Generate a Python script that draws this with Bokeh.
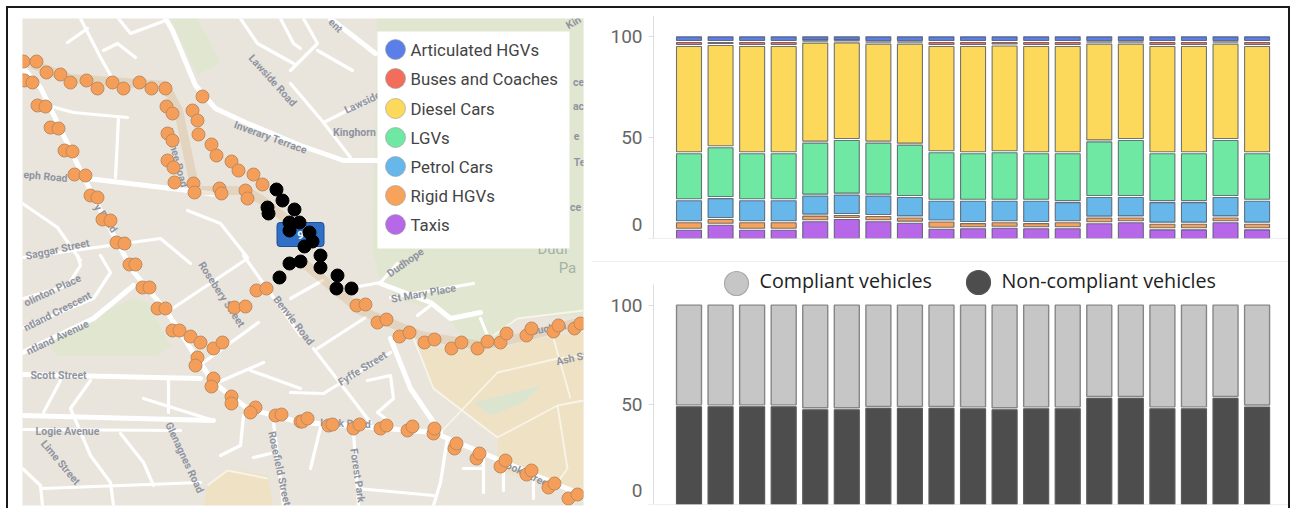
from bokeh.plotting import figure
from bokeh.layouts import row, column
from bokeh.models import Range1d
from bokeh.core.properties import value
from bokeh.embed import file_html
from bokeh.resources import INLINE

# ---------------- chart data ----------------
periods = list(range(19))
legend_names = ["Articulated HGVs", "Buses and Coaches", "Diesel Cars", "LGVs", "Petrol Cars", "Rigid HGVs", "Taxis"]
legend_colors = ["#5b7fe8", "#f26d5b", "#fdd95b", "#6fe8a3", "#67b7ea", "#f7a35c", "#b668e8"]

taxis = [4.6, 7.1, 4.6, 4.6, 8.8, 9.9, 8.8, 8.1, 5.1, 5.3, 5.6, 5.3, 5.3, 7.8, 8.3, 4.8, 4.8, 8.3, 4.8]
rigid_hgvs = [3.7, 2.8, 3.7, 3.7, 2.8, 2.0, 2.6, 2.6, 3.6, 2.6, 2.7, 2.6, 3.0, 2.8, 2.4, 2.8, 2.8, 2.4, 2.8]
petrol_cars = [10.9, 10.4, 10.9, 10.9, 9.9, 10.1, 10.1, 10.1, 10.3, 11.1, 10.7, 11.1, 10.0, 10.2, 10.1, 10.7, 10.7, 10.1, 11.4]
lgvs = [23.3, 25.2, 23.3, 23.3, 26.3, 27.1, 26.3, 26.0, 24.0, 23.5, 24.0, 23.5, 24.2, 27.6, 28.3, 24.2, 24.2, 28.3, 23.5]
diesel_cars = [53.2, 50.7, 53.2, 53.2, 49.6, 48.4, 49.1, 50.1, 52.7, 53.2, 53.0, 53.2, 53.2, 48.5, 47.8, 53.2, 53.2, 47.8, 53.2]
buses = [2.0, 1.5, 2.0, 2.0, 0.6, 0.5, 0.8, 0.8, 2.0, 2.0, 1.7, 2.0, 2.0, 0.8, 0.8, 2.0, 2.0, 0.8, 2.0]
artic_hgvs = [2.3, 2.3, 2.3, 2.3, 2.0, 2.0, 2.3, 2.3, 2.3, 2.3, 2.3, 2.3, 2.3, 2.3, 2.3, 2.3, 2.3, 2.3, 2.3]

non_compliant = [49.5, 49.5, 49.5, 49.5, 48.0, 48.0, 48.7, 48.7, 48.7, 48.5, 48.0, 48.5, 48.5, 53.7, 53.7, 48.5, 48.5, 53.7, 49.4]
compliance_names = ["Compliant vehicles", "Non-compliant vehicles"]
compliance_colors = ["#c6c6c6", "#4d4d4d"]
tick_values = [0, 50, 100]
zero_label = ["0"]

# ---------------- map data (map coordinates) ----------------
orange_x = [23,36,46,60,70,86,97,112,123,139,151,165,166,172,202,192,197,198,211,216,231,238,253,262,167,172,167,173,174,193,194,219,221,245,247,
            24,32,37,45,50,58,64,72,74,85,90,97,102,110,116,124,129,135,142,149,157,165,172,179,190,200,213,222,234,245,256,266,197,195,213,211,231,231,255,250,275,281,300,
            356,365,377,386,399,409,424,434,451,461,477,487,500,506,526,531,553,558,574,580,
            302,307,328,332,353,359,380,386,407,412,433,434,454,456,476,479,500,505,526,531,548,554,568,577]
orange_y = [61,61,72,74,82,80,88,82,88,82,88,88,106,113,96,110,120,134,144,155,161,170,174,184,133,140,160,167,182,183,192,188,193,190,198,
            80,82,105,106,127,128,150,151,174,175,195,197,219,220,242,243,264,264,287,287,308,308,330,330,336,342,348,342,307,306,290,288,357,365,378,386,396,403,407,412,415,414,421,
            305,304,322,319,336,332,342,339,348,342,348,341,342,333,335,328,331,325,328,323,
            421,418,425,424,428,424,428,425,430,426,433,428,448,443,458,453,466,460,474,470,487,483,498,494]
black_x = [276,282,267,268,294,289,299,289,309,312,304,320,320,289,300,279,337,336,351]
black_y = [189,200,207,213,209,222,222,230,232,241,246,255,267,263,261,277,275,288,288]

route_paths_x = [[22,70,165,178,195,245,262,290], [300,360,420,480,530,583]]
route_paths_y = [[60,78,85,110,190,190,200,222], [260,310,335,345,335,320]]

streets_wide_x = [[165,172,195,215,245,300,343,380],[22,40,80,100,132,167,190,213,247,300,350,433,457,583],[22,93,133],[87,187,222],[330,375],[390,410,440],[22,200],[380,430,450,480],[22,213]]
streets_wide_y = [[18,30,85,108,122,145,160,160],[67,87,170,210,270,312,348,382,408,422,425,432,442,495],[352,318,285],[178,190,195],[18,53],[338,388,432],[374,378],[283,302,318,312],[415,420]]
streets_mid_x = [[118,130,165],[80,100,113],[67,87],[103,117,135],[240,257,293],[303,317,290],[317,352],[280,293,300],[323,373],[290,323,350],[40,73,127],[118,115],[22,57,80],[22,160,190],[187,220,247],[23,93,110,100],[23,67,80,77],[172,247],[203,258],[243,300],[313,370],[217,263],[250,300],[60,43],[90,70,90,110,113],[120,143,153],[42,200],[22,40,42],[143,213],[243,240,220],[273,283],[253,270],[323,390],[290,323],[322,290],[365,317],[397,380,353],[430,417],[390,473],[480,487],[447,440,433],[320,310],[353,358],[357,433],[367,390,393,377,390],[463,483],[483,483],[503,503],[533,533],[22,180],[168,168]]
streets_mid_y = [[18,33,20],[18,57,80],[42,28],[50,43,57],[18,43,63],[18,43,70],[50,70],[18,43,48],[122,97],[83,122,157],[103,112,117],[117,177],[203,227,260],[257,238,263],[210,223,257],[327,298,272,255],[298,285,265,255],[308,258],[362,322],[255,335],[348,422],[382,362],[370,388],[380,412],[380,408,455,482,505],[433,462,485],[488,482],[468,485,505],[398,420],[415,445,455],[422,505],[457,453],[393,352],[392,393],[280,298],[317,348],[263,282,287],[305,315],[297,283],[318,335],[437,482,505],[427,468],[432,505],[488,495],[380,375,398,412,422],[468,468],[455,492],[468,490],[478,498],[429,430],[378,412]]
streets_thin_x = [[413,433,497],[440,497,557,583],[497,557,583],[553,570],[557,567,557],[493,517,583],[207,227,267]]
streets_thin_y = [[338,388,437],[432,372,358,355],[437,405,400],[338,398],[405,468,482],[335,318,310],[485,470,478]]

park_x = [[170,197,220,197],[50,57,133,147,170,157,57],[420,583,583,517,495,497,470,440,400,380,372,377,420]]
park_y = [[18,18,62,75],[348,332,298,302,345,355,355],[18,18,315,318,338,370,345,310,300,280,250,18,18]]
sand_x = [[418,433,497,497,583,583,553,497,457],[203,207,227,267,273]]
sand_y = [[345,388,437,470,495,332,335,348,350],[505,485,468,475,505]]
pond_x = [[473,540,523,490]]
pond_y = [[402,385,402,415]]

street_names = ["Lawside Road","Lawside","Inverary Terrace","Kinghorn","Saggar Street","eph Road","olinton Place","ntland Crescent","ntland Avenue","Scott Street","Logie Avenue","Lime Street","Glenagnes Road","Rosefield Street","Rosebery Street","Benvie Road","Fyffe Street","St Mary Place","Forest Park","Ash St","Dudhope","Buchan","Intok Road","Cook Street","Lochee Road","y Road","ent","Kin","ce","ac","e","Te","ce"]
street_x = [272,362,270,354,57,45,52,57,57,58,67,60,184,279,221,293,362,423,357,571,405,548,345,525,176,105,335,573,578,578,576,579,575]
street_y = [80,102,137,132,249,176,290,311,337,375,431,462,457,468,294,320,368,293,475,358,262,328,423,473,157,218,25,22,82,106,135,162,207]
street_angle = [-48,25,-20,0,12,-5,25,27,25,0,0,-50,-65,-78,-57,-52,32,10,-82,12,35,10,-2,-25,-75,-55,-45,30,0,0,0,0,0]
park_names = ["Dudl", "Pa"]
park_name_x = [552, 567]
park_name_y = [248, 267]
marker_label = ["9"]
marker_x = [300]
marker_y = [234]

CANVAS_LEFT_PX, AXIS_PX, RIGHT_PX = 592, 653, 1288
PX_PER_BAR = 31.56
BAR_W = 0.792
GAP = 0.5
TICK_COLOR = "#666666"
AXIS_COLOR = "#dddddd"

axis_x = -1.125
x_start = axis_x - (AXIS_PX - CANVAS_LEFT_PX) / PX_PER_BAR
x_end = axis_x + (RIGHT_PX - AXIS_PX) / PX_PER_BAR


def style_axis(p, bound):
    ax = p.yaxis[0]
    ax.fixed_location = axis_x
    ax.ticker = tick_values
    ax.major_label_overrides = {0: ""}
    ax.major_label_text_font = "Roboto"
    ax.major_label_text_font_size = "19px"
    ax.major_label_text_color = TICK_COLOR
    ax.major_label_standoff = 6
    ax.major_tick_out = 5
    ax.major_tick_in = 0
    ax.minor_tick_out = 0
    ax.minor_tick_in = 0
    ax.axis_line_color = AXIS_COLOR
    ax.major_tick_line_color = AXIS_COLOR
    ax.bounds = (0, bound)
    p.xaxis.visible = False
    p.grid.visible = False
    p.outline_line_color = None
    p.segment(x0=[axis_x], x1=[x_end], y0=[0], y1=[0], line_color=AXIS_COLOR, line_width=1)
    p.text(x=[axis_x], y=[0], text=zero_label, x_offset=-11, y_offset=-14, text_align="right",
           text_baseline="middle", text_font=value("Roboto"), text_font_size="19px", text_color=TICK_COLOR)


# ---------------- map panel ----------------
m = figure(width=584, height=500, x_range=Range1d(22, 583), y_range=Range1d(505, 18),
           output_backend="svg", toolbar_location=None, min_border_left=14, min_border_right=9,
           min_border_top=10, min_border_bottom=3, background_fill_color="#e9e5dc")
m.axis.visible = False
m.grid.visible = False
m.outline_line_color = None
m.patches(park_x, park_y, fill_color="#e1e6d1", line_color=None)
m.patches(sand_x, sand_y, fill_color="#efe2c4", line_color=None)
m.patches(pond_x, pond_y, fill_color="#dbe4cf", line_color=None)
m.multi_line(streets_thin_x, streets_thin_y, line_color="#f8f4e8", line_width=1.8)
m.multi_line(streets_mid_x, streets_mid_y, line_color="#ffffff", line_width=3.2, line_cap="round", line_join="round")
m.multi_line(streets_wide_x, streets_wide_y, line_color="#ffffff", line_width=5, line_cap="round", line_join="round")
m.multi_line(route_paths_x, route_paths_y, line_color="#d9b48c", line_alpha=0.35, line_width=9, line_join="round")
m.text(street_x, street_y, text=street_names, angle=street_angle, angle_units="deg", text_align="center",
       text_baseline="middle", text_font=value("Roboto"), text_font_style="bold", text_font_size="10.5px",
       text_color="#8f94a1")
m.text(park_name_x, park_name_y, text=park_names, text_align="center", text_baseline="middle",
       text_font=value("Roboto"), text_font_size="15px", text_color="#a3b2a4")
m.rect(x=[300], y=[234], width=47, height=24, fill_color="#2f6fc6", line_color="#1f4f96", line_width=1, border_radius=3)
m.text(marker_x, marker_y, text=marker_label, text_align="center", text_baseline="middle",
       text_font=value("Roboto"), text_font_style="bold", text_font_size="11px", text_color="#ffffff")
m.scatter(orange_x, orange_y, size=13, fill_color="#f59e5a", line_color="#c08a5c", line_width=1)
m.scatter(black_x, black_y, size=13, fill_color="#000000", line_color="#000000")
# legend box
m.quad(left=[377], right=[569], top=[31], bottom=[248], fill_color="#ffffff", line_color=None)
leg_y = [49, 78, 108, 137, 166, 195, 224]
m.scatter([395] * 7, leg_y, size=20, fill_color=legend_colors, line_color="#999999", line_alpha=0.6, line_width=1)
m.text([410] * 7, leg_y, text=legend_names, text_align="left", text_baseline="middle",
       text_font=value("Roboto"), text_font_size="16.8px", text_color="#444444")

# ---------------- top stacked chart ----------------
t = figure(width=696, height=254, x_range=Range1d(x_start, x_end), y_range=Range1d(0, 110.6),
           output_backend="svg", toolbar_location=None, min_border_left=0, min_border_right=0,
           min_border_top=7, min_border_bottom=24)
stack = [taxis, rigid_hgvs, petrol_cars, lgvs, diesel_cars, buses, artic_hgvs]
stack_colors = [legend_colors[6], legend_colors[5], legend_colors[4], legend_colors[3], legend_colors[2], legend_colors[1], legend_colors[0]]
base = [0.0] * len(periods)
for k, (vals, col) in enumerate(zip(stack, stack_colors)):
    tops = [b + v for b, v in zip(base, vals)]
    bot = [b + (GAP if k else 0) for b in base]
    upper = [u if k == len(stack) - 1 else max(u - GAP, b + 0.1) for u, b in zip(tops, bot)]
    t.vbar(x=periods, bottom=bot, top=upper, width=BAR_W, fill_color=col, line_color="#4f5560",
           line_alpha=0.8, line_width=1.1)
    base = tops
style_axis(t, 110.6)

# ---------------- bottom compliance chart ----------------
b = figure(width=696, height=246, x_range=Range1d(x_start, x_end), y_range=Range1d(0, 120.4),
           output_backend="svg", toolbar_location=None, min_border_left=0, min_border_right=0,
           min_border_top=2, min_border_bottom=4)
b.styles = {"box-shadow": "0 -1px 0 #eeeeee"}
compliant = [100 - v for v in non_compliant]
b.vbar(x=periods, bottom=0, top=[v - GAP for v in non_compliant], width=BAR_W, fill_color=compliance_colors[1],
       line_color="#5a5a5a", line_width=1.2)
b.vbar(x=periods, bottom=[v + GAP for v in non_compliant], top=[v + c for v, c in zip(non_compliant, compliant)],
       width=BAR_W, fill_color=compliance_colors[0], line_color="#868686", line_width=1.4)
style_axis(b, 110.4)
b.extra_x_ranges["px"] = Range1d(CANVAS_LEFT_PX, RIGHT_PX)
b.extra_y_ranges["px"] = Range1d(504, 264)
b.scatter([736, 978], [283, 282], size=24, fill_color=compliance_colors, line_color=["#aaaaaa", "#555555"],
          line_width=1.2, x_range_name="px", y_range_name="px")
b.text([759, 1001], [280, 280], text=compliance_names, text_align="left", text_baseline="middle",
       text_font=value("Open Sans"), text_font_size="19.7px", text_color="#222222",
       x_range_name="px", y_range_name="px")

root = row(m, column(t, b, spacing=0), spacing=0,
           styles={"border-top": "2px solid #1a1a1a", "border-left": "2px solid #1a1a1a",
                   "border-right": "2px solid #1a1a1a", "position": "absolute", "left": "6px", "top": "6px",
                   "box-sizing": "content-box"})

open("out.html", "w").write(file_html(root, INLINE))
